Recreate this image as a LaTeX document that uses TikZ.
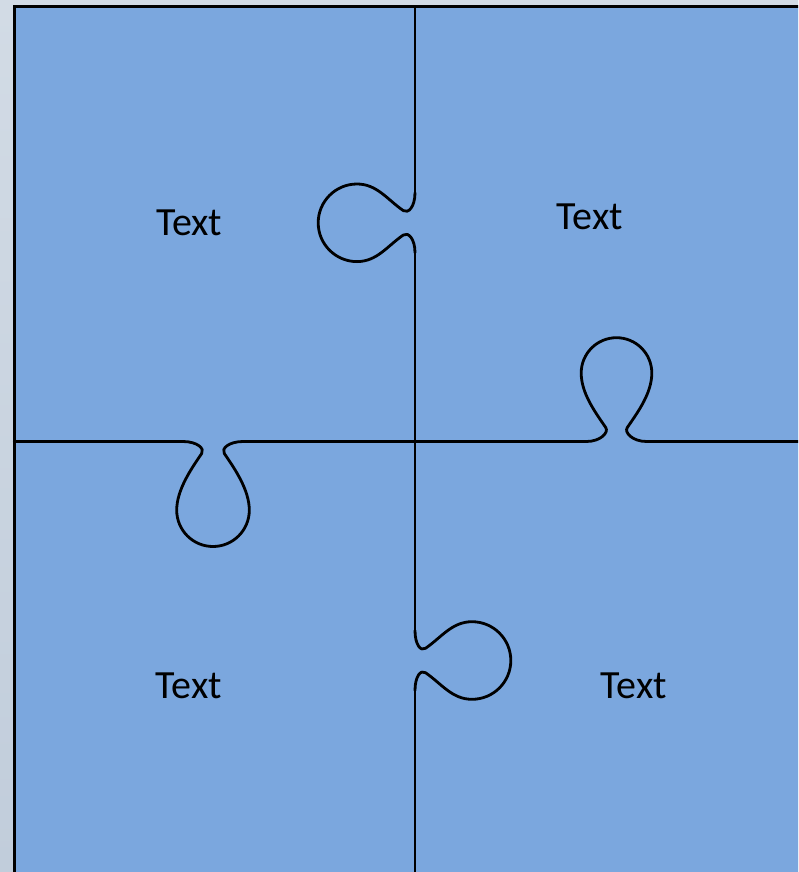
\documentclass[tikz,border=0pt]{standalone}
\usepackage{fontspec}
\setmainfont{Carlito}
\definecolor{bgtop}{HTML}{D2DBE5}
\definecolor{bgbot}{HTML}{C1CDDB}
\definecolor{piece}{HTML}{7BA7DE}
\newcommand{\puzzletab}[5]{% #1 name, #2 neck half width, #3 hook height, #4 bulb radius, #5 bulb centre
  \draw[edge] (-30,0) coordinate (#1a)
    .. controls (-16,0) and ({-#2+3.4},{#3-4.9}) .. ({-#2},{#3})
    .. controls ({-#2-11},{#3+16}) and ({-#4},{#5-20}) .. ({-#4},{#5})
    .. controls ({-#4},{#5+0.5523*#4}) and ({-0.5523*#4},{#5+#4}) .. (0,{#5+#4})
    .. controls ({0.5523*#4},{#5+#4}) and ({#4},{#5+0.5523*#4}) .. ({#4},{#5})
    .. controls ({#4},{#5-20}) and ({#2+11},{#3+16}) .. ({#2},{#3})
    .. controls ({#2-3.4},{#3-4.9}) and (16,0) .. (30,0) coordinate (#1b);
}
\begin{document}
\begin{tikzpicture}[x=1pt,y=-1pt,
  edge/.style={line width=2.8pt,line cap=round,line join=round,black},
  border/.style={line width=3.2pt,black},
  label/.style={font=\fontsize{40}{48}\selectfont,anchor=base,inner sep=0pt}]
\useasboundingbox (0,0) rectangle (798,872);
\clip (0,0) rectangle (798,872);
\shade[top color=bgtop,bottom color=bgbot] (0,0) rectangle (798,872);
\fill[piece] (14.2,6.7) rectangle (820,890);
% tabs
\begin{scope}[shift={(415,222.8)},x={(0pt,-1pt)},y={(-1pt,0pt)}]
  \puzzletab{ta}{12.2}{11.7}{38.8}{58}
\end{scope}
\begin{scope}[shift={(616.5,441.5)},x={(1pt,0pt)},y={(0pt,1pt)}]
  \puzzletab{tb}{10.8}{14}{35.3}{68.5}
\end{scope}
\begin{scope}[shift={(213,441.5)},x={(1pt,0pt)},y={(0pt,-1pt)}]
  \puzzletab{tc}{11.3}{12}{36.3}{68.7}
\end{scope}
\begin{scope}[shift={(415,660.5)},x={(0pt,-1pt)},y={(1pt,0pt)}]
  \puzzletab{td}{12.2}{10.5}{38.8}{57}
\end{scope}
% dividers
\coordinate (topmid) at (415,6.7);
\coordinate (centre) at (415,441.5);
\coordinate (botmid) at (415,880);
\coordinate (leftmid) at (14.2,441.5);
\coordinate (rightmid) at (820,441.5);
\draw[edge] (topmid) -- (taa);
\draw[edge] (tab) -- (centre) -- (tda);
\draw[edge] (tdb) -- (botmid);
\draw[edge] (leftmid) -- (tca);
\draw[edge] (tcb) -- (centre) -- (tba);
\draw[edge] (tbb) -- (rightmid);
% border
\draw[border] (14.2,890) -- (14.2,6.7) -- (820,6.7);
% labels
\node[label] (l1) at (189.2,235) {Text};
\node[label] (l2) at (590,229) {Text};
\node[label] (l3) at (189,698.3) {Text};
\node[label] (l4) at (633.8,698.3) {Text};
\end{tikzpicture}
\end{document}
